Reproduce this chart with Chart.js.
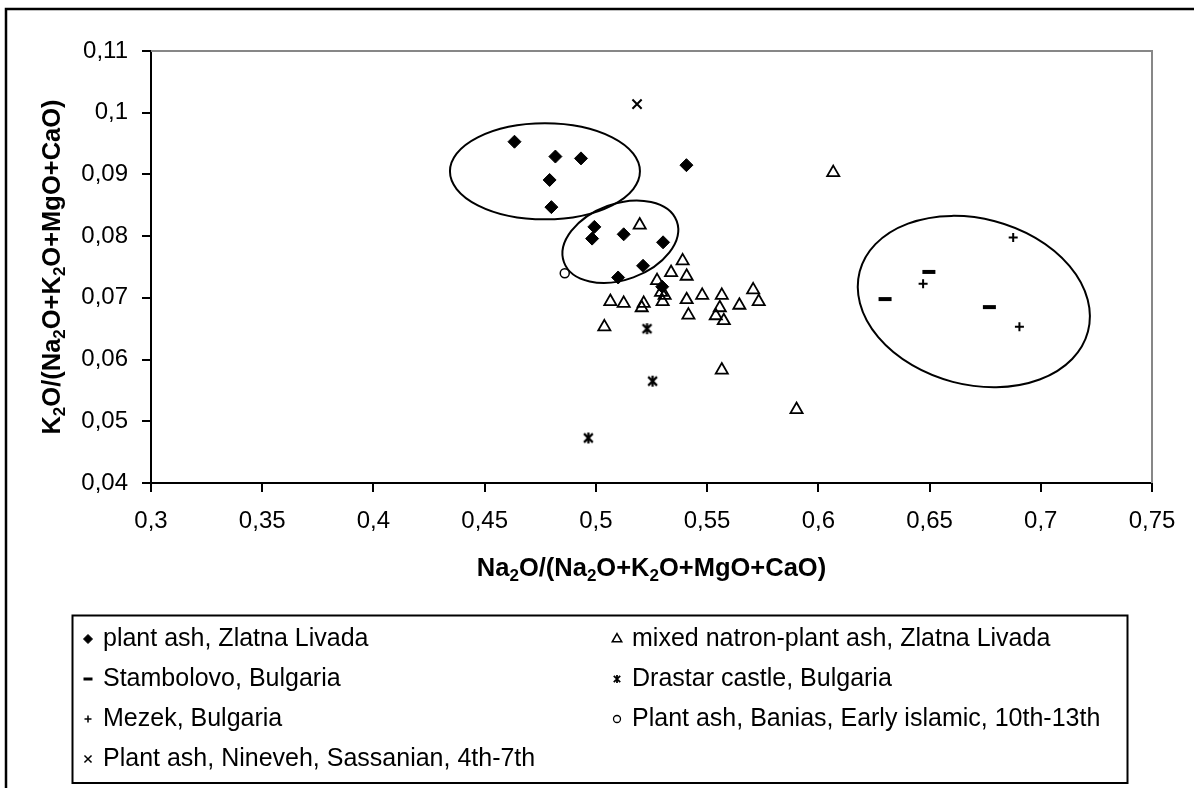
<!DOCTYPE html>
<html>
<head>
<meta charset="utf-8">
<script src="https://cdn.jsdelivr.net/npm/chart.js@4.4.1/dist/chart.umd.min.js"></script>
<style>
  html, body { margin: 0; padding: 0; background: #fff; }
  canvas { display: block; }
</style>
</head>
<body>
<canvas id="c" width="1194" height="788"></canvas>
<script>
// series names, in legend order
const seriesNames = [
  'plant ash, Zlatna Livada',
  'mixed natron-plant ash, Zlatna Livada',
  'Stambolovo, Bulgaria',
  'Drastar castle, Bulgaria',
  'Mezek, Bulgaria',
  'Plant ash, Banias, Early islamic, 10th-13th',
  'Plant ash, Nineveh, Sassanian, 4th-7th'
];

// Na2O/(...) on x, K2O/(...) on y
const plantAshX = [0.4634, 0.4818, 0.4933, 0.4792, 0.4800, 0.5407, 0.4993, 0.4983, 0.5125, 0.5302, 0.5212, 0.5100, 0.5298];
const plantAshY = [0.0953, 0.0929, 0.0926, 0.0891, 0.0847, 0.0915, 0.0815, 0.0796, 0.0803, 0.0790, 0.0752, 0.0733, 0.0718];

const mixedX = [0.5197, 0.6067, 0.5390, 0.5338, 0.5408, 0.5275, 0.5293, 0.5309, 0.5300, 0.5065, 0.5125, 0.5215, 0.5206,
                0.5408, 0.5478, 0.5566, 0.5557, 0.5539, 0.5575, 0.5416, 0.5645, 0.5707, 0.5732, 0.5038, 0.5566, 0.5902];
const mixedY = [0.0818, 0.0903, 0.0760, 0.0741, 0.0735, 0.0728, 0.0709, 0.0704, 0.0694, 0.0694, 0.0691, 0.0691, 0.0684,
                0.0697, 0.0704, 0.0704, 0.0684, 0.0671, 0.0663, 0.0672, 0.0688, 0.0713, 0.0694, 0.0653, 0.0583, 0.0519];

const stambolovoX = [0.6300, 0.6497, 0.6769];
const stambolovoY = [0.0698, 0.0742, 0.0685];

const drastarX = [0.5230, 0.5255, 0.4966];
const drastarY = [0.0650, 0.0565, 0.0473];

const mezekX = [0.6876, 0.6471, 0.6904];
const mezekY = [0.0798, 0.0723, 0.0653];

const baniasX = [0.4860];
const baniasY = [0.0740];

const ninevehX = [0.5185];
const ninevehY = [0.1014];

const xTicks = [0.3, 0.35, 0.4, 0.45, 0.5, 0.55, 0.6, 0.65, 0.7, 0.75];
const yTicks = [0.04, 0.05, 0.06, 0.07, 0.08, 0.09, 0.1, 0.11];

const FONT = '"Liberation Sans", Arial, sans-serif';

function pts(xs, ys) { return xs.map((x, i) => ({ x: x, y: ys[i] })); }

// asterisk marker (X plus a vertical bar)
function asterisk(size, lw) {
  const c = document.createElement('canvas');
  c.width = c.height = size;
  const g = c.getContext('2d');
  const m = size / 2, r = size / 2 - 1;
  g.strokeStyle = '#000';
  g.lineWidth = lw;
  g.beginPath();
  g.moveTo(m - r * 0.8, m - r * 0.8); g.lineTo(m + r * 0.8, m + r * 0.8);
  g.moveTo(m + r * 0.8, m - r * 0.8); g.lineTo(m - r * 0.8, m + r * 0.8);
  g.moveTo(m, m - r); g.lineTo(m, m + r);
  g.stroke();
  return c;
}
const starBig = asterisk(13, 2.2);
const starSmall = asterisk(10, 1.8);

const styles = [
  { pointStyle: 'rectRot', radius: 6.5, bw: 1, fill: '#000', lr: 4.5, lbw: 1 },
  { pointStyle: 'triangle', radius: 7, bw: 1.8, fill: 'rgba(0,0,0,0)', lr: 5.5, lbw: 1.5 },
  { pointStyle: 'line', radius: 6.5, bw: 4, fill: '#000', lr: 4.5, lbw: 3 },
  { pointStyle: starBig, legendStyle: starSmall, radius: 5, bw: 1, fill: '#000', lr: 4, lbw: 1 },
  { pointStyle: 'cross', radius: 4.5, bw: 2, fill: '#000', lr: 3.5, lbw: 1.5 },
  { pointStyle: 'circle', radius: 4.5, bw: 1.5, fill: 'rgba(0,0,0,0)', lr: 3.5, lbw: 1.3 },
  { pointStyle: 'crossRot', radius: 6.5, bw: 2, fill: '#000', lr: 5, lbw: 1.5 }
];

const seriesData = [
  pts(plantAshX, plantAshY), pts(mixedX, mixedY), pts(stambolovoX, stambolovoY),
  pts(drastarX, drastarY), pts(mezekX, mezekY), pts(baniasX, baniasY), pts(ninevehX, ninevehY)
];

// group ellipses: centre in data units, radii in px, rotation in degrees
const groupEllipses = [
  { cx: 0.4771, cy: 0.0905, rx: 95, ry: 48, rot: 0 },
  { cx: 0.5110, cy: 0.0791, rx: 60, ry: 38, rot: -20 },
  { cx: 0.6699, cy: 0.0694, rx: 118, ry: 83, rot: 14.7 }
];

function fmt(v) { return String(+v.toFixed(2)).replace('.', ','); }

// text with subscript digits, e.g. "Na_2O"
function subText(ctx, parts, size) {
  const big = 'bold ' + size + 'px ' + FONT;
  const small = 'bold ' + Math.round(size * 0.67) + 'px ' + FONT;
  let w = 0;
  parts.forEach(p => { ctx.font = p[1] ? small : big; w += ctx.measureText(p[0]).width; });
  let x = -w / 2;
  ctx.textAlign = 'left';
  ctx.textBaseline = 'alphabetic';
  parts.forEach(p => {
    ctx.font = p[1] ? small : big;
    ctx.fillText(p[0], x, p[1] ? size * 0.2 : 0);
    x += ctx.measureText(p[0]).width;
  });
}

const xTitle = [['Na', 0], ['2', 1], ['O/(Na', 0], ['2', 1], ['O+K', 0], ['2', 1], ['O+MgO+CaO)', 0]];
const yTitle = [['K', 0], ['2', 1], ['O/(Na', 0], ['2', 1], ['O+K', 0], ['2', 1], ['O+MgO+CaO)', 0]];

const decor = {
  id: 'decor',
  beforeDatasetsDraw(chart) {
    const { ctx, chartArea: a } = chart;
    ctx.save();
    ctx.strokeStyle = '#878787';
    ctx.lineWidth = 2;
    ctx.beginPath();
    ctx.moveTo(a.left, a.top); ctx.lineTo(a.right, a.top); ctx.lineTo(a.right, a.bottom);
    ctx.stroke();
    ctx.restore();
  },
  afterDatasetsDraw(chart) {
    const { ctx } = chart;
    const xs = chart.scales.x, ys = chart.scales.y;
    ctx.save();
    ctx.strokeStyle = '#000';
    ctx.lineWidth = 2;
    groupEllipses.forEach(e => {
      ctx.beginPath();
      ctx.ellipse(xs.getPixelForValue(e.cx), ys.getPixelForValue(e.cy), e.rx, e.ry, e.rot * Math.PI / 180, 0, Math.PI * 2);
      ctx.stroke();
    });
    ctx.restore();
  },
  afterDraw(chart) {
    const { ctx, chartArea: a } = chart;
    ctx.save();
    ctx.fillStyle = '#000';

    // axis titles
    ctx.save();
    ctx.translate((a.left + a.right) / 2, 576);
    subText(ctx, xTitle, 25.5);
    ctx.restore();
    ctx.save();
    ctx.translate(60, (a.top + a.bottom) / 2);
    ctx.rotate(-Math.PI / 2);
    subText(ctx, yTitle, 25.5);
    ctx.restore();

    // legend box
    ctx.strokeStyle = '#000';
    ctx.lineWidth = 2;
    ctx.strokeRect(72.5, 615.5, 1055, 167.5);
    ctx.font = '25px ' + FONT;
    ctx.textBaseline = 'middle';
    ctx.textAlign = 'left';
    seriesNames.forEach((name, i) => {
      const col = i % 2, row = Math.floor(i / 2);
      const mx = col ? 617 : 88;
      const y = 639 + row * 40;
      const s = styles[i];
      ctx.fillStyle = s.fill;
      ctx.strokeStyle = '#000';
      ctx.lineWidth = s.lbw;
      Chart.helpers.drawPoint(ctx, { pointStyle: s.legendStyle || s.pointStyle, radius: s.lr, borderWidth: s.lbw, rotation: 0 }, mx, y);
      ctx.fillStyle = '#000';
      ctx.fillText(name, mx + 15, y);
    });

    // outer chart frame (only top and left fall inside the picture)
    ctx.lineWidth = 2.5;
    ctx.strokeStyle = '#000';
    ctx.strokeRect(6, 9, 1210, 800);
    ctx.restore();
  }
};

new Chart(document.getElementById('c'), {
  type: 'scatter',
  data: {
    datasets: seriesNames.map((name, i) => ({
      label: name,
      data: seriesData[i],
      pointStyle: styles[i].pointStyle,
      pointRadius: styles[i].radius,
      pointBorderWidth: styles[i].bw,
      pointBackgroundColor: styles[i].fill,
      pointBorderColor: '#000',
      showLine: false
    }))
  },
  options: {
    responsive: false,
    animation: false,
    events: [],
    layout: { padding: { left: 0, top: 51, right: 42, bottom: 0 } },
    plugins: { legend: { display: false }, title: { display: false }, tooltip: { enabled: false } },
    scales: {
      x: {
        type: 'linear',
        min: xTicks[0], max: xTicks[xTicks.length - 1],
        afterBuildTicks: s => { s.ticks = xTicks.map(v => ({ value: v })); },
        afterFit: s => { s.height = 305; },
        grid: { drawOnChartArea: false, drawTicks: true, tickLength: 9, color: '#000', lineWidth: 2 },
        border: { display: true, color: '#000', width: 2 },
        ticks: { color: '#000', padding: 15, maxRotation: 0, font: { family: FONT, size: 24, lineHeight: 1.2 }, callback: v => fmt(v) }
      },
      y: {
        type: 'linear',
        min: yTicks[0], max: yTicks[yTicks.length - 1],
        afterBuildTicks: s => { s.ticks = yTicks.map(v => ({ value: v })); },
        afterFit: s => { s.width = 151; },
        grid: { drawOnChartArea: false, drawTicks: true, tickLength: 9, color: '#000', lineWidth: 2 },
        border: { display: true, color: '#000', width: 2 },
        ticks: { color: '#000', padding: 14, font: { family: FONT, size: 24 }, callback: v => fmt(v) }
      }
    }
  },
  plugins: [decor]
});
</script>
</body>
</html>
